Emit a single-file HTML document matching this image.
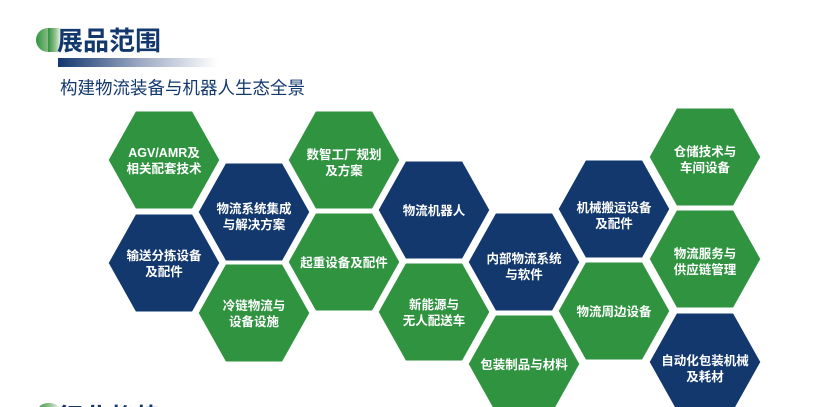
<!DOCTYPE html>
<html><head><meta charset="utf-8"><style>
html,body{margin:0;padding:0;background:#fff;width:818px;height:407px;overflow:hidden}
svg{display:block;overflow:hidden}
svg text{font-family:"Liberation Sans","Noto Sans CJK SC",sans-serif}
</style></head><body>
<svg width="818" height="407" viewBox="0 0 818 407" xmlns="http://www.w3.org/2000/svg">
<defs>
<linearGradient id="pill" x1="0" x2="1" y1="0" y2="0"><stop offset="0" stop-color="#2f9340"/><stop offset="0.5" stop-color="#8fbf8a"/><stop offset="1" stop-color="#ffffff"/></linearGradient>
<linearGradient id="bar" x1="0" x2="1" y1="0" y2="0"><stop offset="0" stop-color="#13386e"/><stop offset="0.5" stop-color="#9aa6c2"/><stop offset="1" stop-color="#ffffff"/></linearGradient>
<polygon id="hx" points="-57,0 -29,-50 29,-50 57,0 29,50 -29,50" stroke="#fff" stroke-width="3" stroke-linejoin="round"/>
</defs>
<rect x="36" y="28" width="26" height="24" rx="12" fill="url(#pill)"/>
<rect x="48" y="28" width="14" height="24" fill="url(#pill)"/>
<text x="57" y="50" font-size="26" font-weight="bold" fill="#13386e">展品范围</text>
<rect x="58" y="58" width="160" height="9" fill="url(#bar)"/>
<text x="60" y="94" font-size="17.5" fill="#13386e">构建物流装备与机器人生态全景</text>
<rect x="36" y="403" width="26" height="24" rx="12" fill="url(#pill)"/>
<text x="57" y="427" font-size="26" font-weight="bold" fill="#13386e">行业趋势</text>
<g font-size="12.5" font-weight="bold" fill="#fff" text-anchor="middle">
<use href="#hx" x="164" y="160" fill="#2f9340"/>
<text x="164" y="157">AGV/AMR及</text><text x="164" y="173">相关配套技术</text>
<use href="#hx" x="164" y="263" fill="#13386e"/>
<text x="164" y="260">输送分拣设备</text><text x="164" y="276">及配件</text>
<use href="#hx" x="254" y="212" fill="#13386e"/>
<text x="254" y="213">物流系统集成</text><text x="254" y="229">与解决方案</text>
<use href="#hx" x="254" y="313" fill="#2f9340"/>
<text x="254" y="310">冷链物流与</text><text x="254" y="326">设备设施</text>
<use href="#hx" x="344" y="160" fill="#2f9340"/>
<text x="344" y="159">数智工厂规划</text><text x="344" y="175">及方案</text>
<use href="#hx" x="344" y="262" fill="#2f9340"/>
<text x="344" y="267">起重设备及配件</text>
<use href="#hx" x="434" y="210" fill="#13386e"/>
<text x="434" y="215">物流机器人</text>
<use href="#hx" x="434" y="312" fill="#2f9340"/>
<text x="434" y="309">新能源与</text><text x="434" y="325">无人配送车</text>
<use href="#hx" x="524" y="262" fill="#13386e"/>
<text x="524" y="263">内部物流系统</text><text x="524" y="279">与软件</text>
<use href="#hx" x="524" y="364" fill="#2f9340"/>
<text x="524" y="369">包装制品与材料</text>
<use href="#hx" x="614" y="209" fill="#13386e"/>
<text x="614" y="212">机械搬运设备</text><text x="614" y="228">及配件</text>
<use href="#hx" x="614" y="311" fill="#2f9340"/>
<text x="614" y="316">物流周边设备</text>
<use href="#hx" x="705" y="157" fill="#2f9340"/>
<text x="705" y="156">仓储技术与</text><text x="705" y="172">车间设备</text>
<use href="#hx" x="705" y="259" fill="#2f9340"/>
<text x="705" y="258">物流服务与</text><text x="705" y="274">供应链管理</text>
<use href="#hx" x="705" y="362" fill="#13386e"/>
<text x="705" y="365">自动化包装机械</text><text x="705" y="381">及耗材</text>
</g>
</svg>
</body></html>
